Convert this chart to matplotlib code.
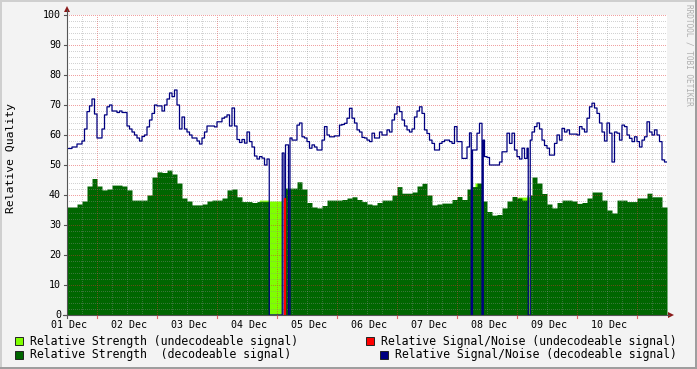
import numpy as np
import matplotlib
matplotlib.use("Agg")
import matplotlib.pyplot as plt
from matplotlib.patches import Rectangle, Polygon
from matplotlib.lines import Line2D

# ---------------- data ----------------
day_labels = ["01 Dec", "02 Dec", "03 Dec", "04 Dec", "05 Dec",
              "06 Dec", "07 Dec", "08 Dec", "09 Dec", "10 Dec"]
sn_step_hours = 1        # S/N sampled hourly
strength_step_hours = 2  # strength sampled every 2 hours

# Relative Signal/Noise (decodeable signal), hourly, 10 days
sn_decodeable = [
    55.5, 55.5, 56, 56, 57, 57, 58, 62, 67.8, 69.7, 72, 67,
    59, 59, 62, 66.7, 69.4, 70, 68, 68, 67.5, 68, 67.5, 67.5,
    63, 62, 61, 60, 59, 58, 59.5, 60, 62.7, 65, 67.2, 70,
    69.7, 69.7, 68, 70, 72, 74, 72.8, 75, 70, 62, 66, 62,
    61, 60, 59, 59, 58, 57, 59, 61, 63, 63, 63, 62.7,
    64.4, 64.4, 65.6, 66, 66.7, 63, 69, 63, 58.5, 57.5, 58.5, 57.3,
    61, 57.8, 56, 53, 52, 52.8, 52.3, 50, 52, 0, 0, 0,
    0, 0, 0, 0, 0, 59, 58.3, 58.3, 63.3, 64, 59.4, 59,
    57.8, 55.6, 56.7, 56, 55, 55, 58.3, 62.8, 60, 59.4, 59.4, 59.7,
    59.7, 63.3, 63.5, 63.9, 65.6, 68.9, 65.6, 64, 61.7, 61, 59.2, 59,
    58.3, 57.8, 60.6, 59, 59, 61, 60, 60, 61.7, 61, 65, 67,
    69.4, 67.8, 65, 63, 61.7, 61, 62, 66, 68, 69.4, 67.2, 61.7,
    60.5, 58.3, 57.2, 55, 55, 57.2, 57.8, 58.3, 58.3, 57.8, 57.2, 62.8,
    57.8, 57.8, 52.2, 52.2, 56, 60.7, 55, 55, 60.6, 63.9, 58.3, 52.8,
    52.5, 50, 50, 50, 50, 51, 54.4, 54.4, 60.6, 57.2, 60.6, 55,
    52.8, 52, 55.6, 52.2, 55.6, 58.3, 61, 62.8, 64, 62, 58.3, 56.5,
    55.6, 53.3, 53.3, 57.2, 60, 58.3, 62.2, 61, 61.7, 60.3, 60.3, 60.3,
    60, 62.8, 62, 61, 65.6, 69.4, 70.6, 69, 67.2, 64, 61, 58,
    64, 60.6, 51, 61, 60.6, 58.3, 63.3, 62.8, 60, 58.9, 57.8, 59.4,
    57.8, 56, 58.3, 59.4, 64.4, 61, 60, 61.7, 60, 57.8, 51.7, 51,
]

# Relative Strength (decodeable signal), every 2 hours
strength_decodeable = [
    36, 36, 37, 38, 43, 45.5, 43, 41.7, 42, 43.3, 43.3, 43,
    41.7, 38.3, 38.3, 38.3, 40, 46, 47.7, 47.5, 48.3, 47, 44, 39,
    38, 36.7, 36.7, 37, 38, 38.3, 38.3, 39, 41.7, 42, 39.4, 37.8,
    37.8, 37.5, 37.8, 37.8, 37.8, 0, 0, 42.3, 42.3, 42.3, 44.4, 42,
    37.5, 36, 35.7, 36.5, 38.3, 38.3, 38.3, 38.5, 39, 39.4, 38.5, 37.8,
    37, 36.7, 37.5, 38.3, 38.3, 40, 42.8, 40.6, 40.6, 41, 43, 43.9,
    40, 36.7, 37, 37.3, 37.3, 38.5, 39.5, 38.5, 42, 42.8, 44, 38,
    34.5, 33.3, 33.5, 35.7, 38, 39.5, 39, 38.3, 40, 46, 44, 40.5,
    37, 35.7, 37.5, 38.3, 38.3, 38, 37.2, 37.5, 39, 41, 41, 38.3,
    35, 34, 38.3, 38.3, 37.8, 37.8, 39, 39, 40.6, 39.4, 39.4, 36,
]

# periods (hours from start) where the decodeable S/N series has other values
sn_dec_periods = [  # (start_h, end_h, value)
    (80.9, 86.1, 0), (86.1, 86.8, 54), (86.8, 87.4, 0), (87.4, 88.6, 56.7),
    (88.6, 89.2, 0), (161.7, 162.2, 0), (166.0, 166.5, 0), (184.5, 185.3, 0),
]
# periods where the decodeable strength is missing
strength_dec_gaps = [(80.9, 87.3), (184.5, 185.3)]
# Relative Strength (undecodeable signal)
strength_undec_periods = [  # (start_h, end_h, value)
    (77.0, 80.9, 38.3), (80.9, 86.1, 38.0), (163.2, 164.4, 44.0),
    (180.4, 184.5, 39.3), (184.5, 185.3, 39.4),
]
# Relative Signal/Noise (undecodeable signal)
sn_undec_periods = [(86.8, 87.3, 39.0)]

# ---------------- build fine series ----------------
dt = 0.1
total_h = len(sn_decodeable) * sn_step_hours
n = int(round(total_h / dt))
t = np.arange(n + 1) * dt
sn = np.repeat(np.array(sn_decodeable, float), int(round(sn_step_hours / dt)))
st = np.repeat(np.array(strength_decodeable, float), int(round(strength_step_hours / dt)))
su = np.zeros(n)
for s, e, v in sn_dec_periods:
    sn[int(round(s / dt)):int(round(e / dt))] = v
for s, e in strength_dec_gaps:
    st[int(round(s / dt)):int(round(e / dt))] = 0
for s, e, v in strength_undec_periods:
    su[int(round(s / dt)):int(round(e / dt))] = v
sn = np.append(sn, sn[-1])
st = np.append(st, st[-1])
su = np.append(su, su[-1])

# ---------------- figure ----------------
W, H = 697, 369
fig = plt.figure(figsize=(W / 100, H / 100), dpi=100)
fig.patch.set_facecolor("#F3F3F3")

def fx(x):
    return x / W

def fy(y):
    return 1 - y / H

L, R, T, B = 67, 667, 15, 315
ax = fig.add_axes([fx(L), fy(B), (R - L) / W, (B - T) / H])
ax.set_facecolor("white")
ax.set_xlim(0, total_h)
ax.set_ylim(0, 100)
for sp in ax.spines.values():
    sp.set_visible(False)
ax.set_xticks([])
ax.set_yticks([])

MONO = "DejaVu Sans Mono"
LIGHT_GREEN = "#7FFF00"
DARK_GREEN = "#006600"
NAVY = "#000080"
RED = "#FF0000"

ax.fill_between(t, 0, su, step="post", color=LIGHT_GREEN, lw=0, zorder=1)
ax.fill_between(t, 0, st, step="post", color=DARK_GREEN, lw=0, zorder=2)

# grid (drawn on top of areas like rrdtool)
dots = (0, (1, 1.4))
gkw = dict(lw=0.72, ls=dots, zorder=3, antialiased=False)
for h in np.arange(0, total_h + 1, 6):
    if (h - 12) % 24 == 0:
        continue
    ax.axvline(h, color="#8F8F8F", alpha=0.4, **gkw)
for h in np.arange(12, total_h, 24):
    ax.axvline(h, color="#DE3030", alpha=0.45, **gkw)
for v in np.arange(2, 101, 2):
    if v % 10 == 0:
        ax.axhline(v, color="#DE3030", alpha=0.45, **gkw)
    else:
        ax.axhline(v, color="#8F8F8F", alpha=0.4, **gkw)

ax.step(t, sn, where="post", color=NAVY, lw=0.9, zorder=4)
for s, e, v in sn_undec_periods:
    ax.plot([s, s, e, e], [0, v, v, 0], color=RED, lw=0.9, zorder=4,
            solid_joinstyle="miter")

# axes lines + arrows (in figure pixel coords)
AX_C = "#555555"
ARROW_C = "#8B1A1A"
fig.add_artist(Line2D([fx(L - 4), fx(R + 2)], [fy(B), fy(B)], color=AX_C, lw=0.8))
fig.add_artist(Line2D([fx(L), fx(L)], [fy(B + 3), fy(T - 5)], color=AX_C, lw=0.8))
fig.add_artist(Polygon([[fx(R + 1), fy(B - 3)], [fx(R + 1), fy(B + 3)], [fx(R + 7), fy(B)]],
                       closed=True, color=ARROW_C, lw=0))
fig.add_artist(Polygon([[fx(L - 3), fy(T - 3)], [fx(L + 3), fy(T - 3)], [fx(L), fy(T - 9)]],
                       closed=True, color=ARROW_C, lw=0))

# y ticks and labels
for v in range(0, 101, 10):
    y = B - v * 3
    fig.add_artist(Line2D([fx(L - 3), fx(L)], [fy(y), fy(y)], color=AX_C, lw=0.8))
    fig.text(fx(61), fy(y), str(v), ha="right", va="center", family=MONO,
             fontsize=7.2, color="black")
# x ticks
px_per_h = (R - L) / total_h
for h in np.arange(12, total_h, 24):
    x = L + h * px_per_h
    fig.add_artist(Line2D([fx(x), fx(x)], [fy(B), fy(B + 3)], color="#DE3030", alpha=0.7, lw=0.8))
for i, lab in enumerate(day_labels):
    x = L + i * 24 * px_per_h
    fig.text(fx(x + 2), fy(325), lab, ha="center", va="center", family=MONO,
             fontsize=7.2, color="black")

# y axis title
fig.text(fx(11), fy(158), "Relative Quality", rotation=90, ha="center", va="center",
         family=MONO, fontsize=8.2, color="black")

# watermark
fig.text(fx(689), fy(4), "RRDTOOL / TOBI OETIKER", rotation=270, ha="center", va="top",
         family=MONO, fontsize=5.6, color="#AFAFAF")

# legend
legend_items = [
    (15, 341, LIGHT_GREEN, "Relative Strength (undecodeable signal)"),
    (15, 354.5, DARK_GREEN, "Relative Strength  (decodeable signal)"),
    (366, 341, RED, "Relative Signal/Noise (undecodeable signal)"),
    (380, 354.5, NAVY, "Relative Signal/Noise (decodeable signal)"),
]
for x, y, c, lab in legend_items:
    fig.add_artist(Rectangle((fx(x), fy(y + 4)), 8 / W, 8 / H, facecolor=c,
                             edgecolor="#222222", lw=0.7))
    fig.text(fx(x + 15), fy(y), lab, ha="left", va="center", family=MONO,
             fontsize=8.3, color="black")

# shade border
fig.add_artist(Rectangle((0, 0), 2 / W, 1, facecolor="#CFCFCF", lw=0))
fig.add_artist(Rectangle((0, 1 - 2 / H), 1, 2 / H, facecolor="#CFCFCF", lw=0))
fig.add_artist(Rectangle((1 - 2 / W, 0), 2 / W, 1, facecolor="#9E9E9E", lw=0))
fig.add_artist(Rectangle((0, 0), 1, 2 / H, facecolor="#9E9E9E", lw=0))

fig.savefig("out.png", dpi=100, facecolor=fig.get_facecolor())
